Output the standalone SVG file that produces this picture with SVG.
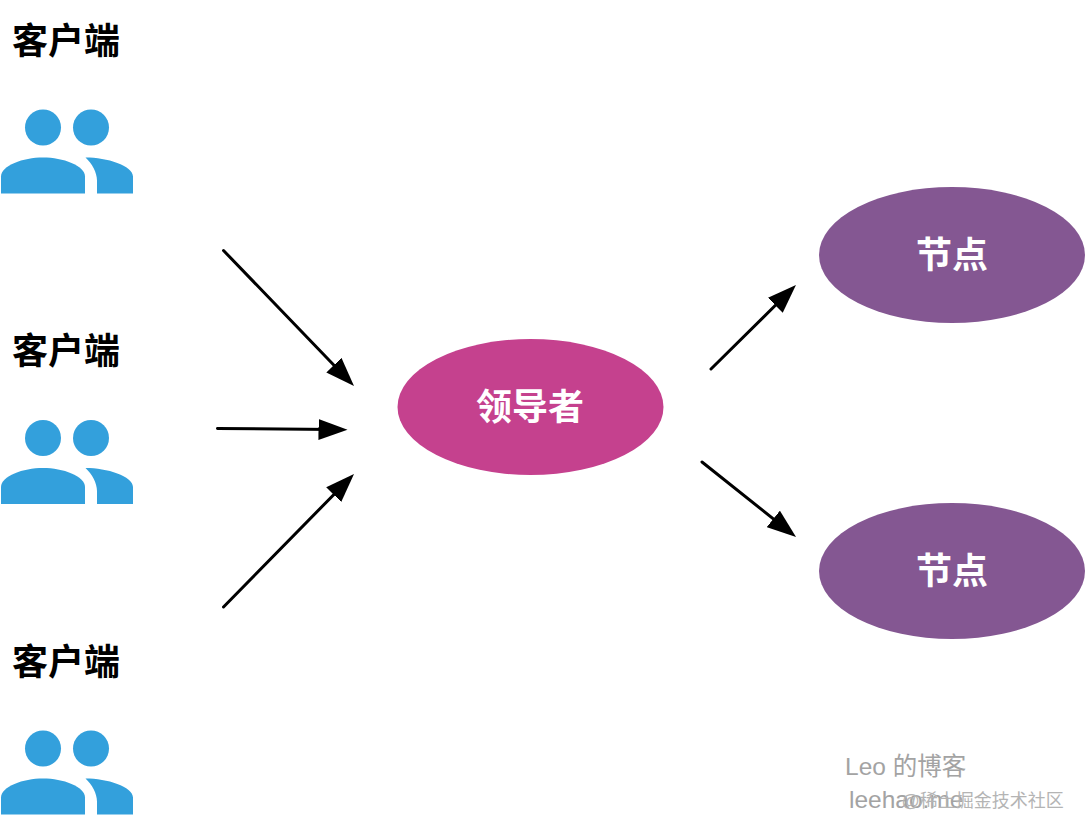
<svg xmlns="http://www.w3.org/2000/svg" width="1086" height="834" viewBox="0 0 1086 834">
<style>
.lbl{font-family:"Liberation Sans","Noto Sans CJK SC",sans-serif;font-size:36px;font-weight:bold;text-anchor:middle}
.cl{fill:#000}
.wh{fill:#fff}
.ic{fill:#33a0dc}
.conn{stroke:#000;stroke-width:3;stroke-linecap:round;fill:none;marker-end:url(#ah)}
.wm{font-family:"Liberation Sans","Noto Sans CJK SC",sans-serif;fill:#a3a3a3;font-size:24.500px}
.jj{font-family:"Liberation Sans","Noto Sans CJK SC",sans-serif;fill:#b4b4b4;font-size:18px}
</style>
<defs>
<marker id="ah" markerUnits="userSpaceOnUse" markerWidth="30" markerHeight="22" refX="14" refY="11" orient="auto">
<path d="M0 0.5L29 11L0 21.500Z" fill="#000"/>
</marker>
<g id="people">
<circle class="ic" cx="43" cy="127.500" r="18"/>
<circle class="ic" cx="91" cy="127.500" r="18"/>
<path class="ic" d="M1 193.500V176.500C1 165.500 23 157.500 43 157.500C63 157.500 85 165.500 85 176.500V193.500Z"/>
<path class="ic" d="M85.500 157.500C107 157.500 133 165.500 133 176.500V193.500H97V180.500C97 172.500 92 163.500 85.500 157.500Z"/>
</g>
</defs>
<rect width="1086" height="834" fill="#fff"/>
<g id="client-1"><text class="lbl cl" x="66" y="54">客户端</text><use href="#people"/></g>
<g id="client-2"><text class="lbl cl" x="66" y="364">客户端</text><use href="#people" y="310.500"/></g>
<g id="client-3"><text class="lbl cl" x="66" y="675">客户端</text><use href="#people" y="621"/></g>
<g id="leader"><ellipse cx="530.500" cy="407" rx="133" ry="68" fill="#c5418e"/><text class="lbl wh" x="530" y="420">领导者</text></g>
<g id="node-1"><ellipse cx="952" cy="255" rx="133" ry="68" fill="#845792"/><text class="lbl wh" x="952" y="268">节点</text></g>
<g id="node-2"><ellipse cx="952" cy="571" rx="133" ry="68" fill="#845792"/><text class="lbl wh" x="952" y="584">节点</text></g>
<g id="connectors">
<line class="conn" x1="223.500" y1="250.500" x2="343.600" y2="375.200"/>
<line class="conn" x1="217.500" y1="428.500" x2="332.500" y2="429.500"/>
<line class="conn" x1="223.500" y1="607" x2="343.500" y2="484.700"/>
<line class="conn" x1="711" y1="369" x2="785.300" y2="295.500"/>
<line class="conn" x1="702" y1="462" x2="784.300" y2="527.600"/>
</g>
<g id="watermark">
<text class="wm" x="845" y="775">Leo 的博客</text>
<text class="wm" x="849" y="808">leehao.me</text>
<text class="jj" x="901.500" y="807">@稀土掘金技术社区</text>
</g>
</svg>
